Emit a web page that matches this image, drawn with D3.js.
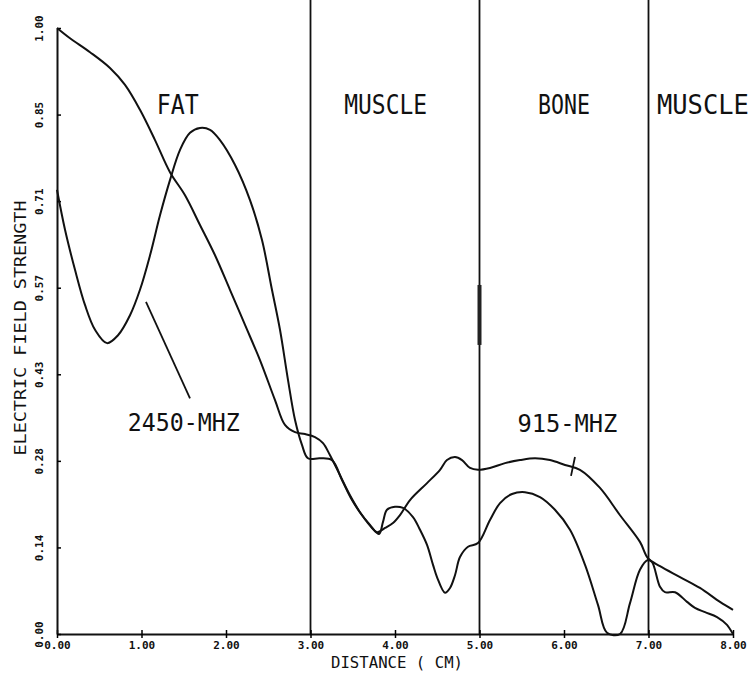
<!DOCTYPE html>
<html>
<head>
<meta charset="utf-8">
<script src="https://cdn.jsdelivr.net/npm/d3@7"></script>
<style>
  body { margin: 0; background: #fff; }
  text { font-family: "DejaVu Sans Mono", "Liberation Mono", monospace; fill: #111; }
</style>
</head>
<body>
<script>
// distance (cm) / field strength
const dist915 = [0, 0.154, 0.391, 0.627, 0.805, 0.982, 1.160, 1.337, 1.515, 1.692, 1.870, 2.047, 2.225, 2.402, 2.580, 2.698, 2.817, 2.935, 3.053, 3.148, 3.231, 3.349, 3.467, 3.586, 3.704, 3.787, 3.882, 3.976, 4.059, 4.178, 4.379, 4.533, 4.615, 4.710, 4.793, 4.888, 4.982, 5.124, 5.302, 5.479, 5.657, 5.834, 6.012, 6.189, 6.426, 6.663, 6.899, 6.994, 7.136, 7.373, 7.609, 7.846, 8.0]
const field915 = [1.0, 0.983, 0.960, 0.934, 0.906, 0.865, 0.815, 0.762, 0.724, 0.675, 0.625, 0.568, 0.510, 0.452, 0.386, 0.345, 0.333, 0.330, 0.325, 0.315, 0.295, 0.262, 0.229, 0.201, 0.180, 0.168, 0.175, 0.183, 0.196, 0.221, 0.249, 0.271, 0.287, 0.292, 0.287, 0.274, 0.271, 0.274, 0.282, 0.287, 0.290, 0.287, 0.279, 0.271, 0.241, 0.196, 0.152, 0.125, 0.112, 0.094, 0.076, 0.053, 0.040]

const dist2450 = [0, 0.095, 0.213, 0.331, 0.450, 0.592, 0.722, 0.864, 0.982, 1.101, 1.219, 1.337, 1.456, 1.574, 1.692, 1.811, 1.929, 2.107, 2.284, 2.426, 2.544, 2.639, 2.734, 2.817, 2.899, 2.970, 3.112, 3.254, 3.373, 3.491, 3.609, 3.728, 3.811, 3.858, 3.905, 4.000, 4.095, 4.213, 4.296, 4.379, 4.450, 4.497, 4.592, 4.651, 4.710, 4.769, 4.864, 4.982, 5.124, 5.243, 5.385, 5.538, 5.716, 5.893, 6.071, 6.249, 6.402, 6.509, 6.663, 6.781, 6.899, 6.994, 7.041, 7.136, 7.195, 7.314, 7.456, 7.550, 7.669, 7.811, 7.929, 8.0]
const field2450 = [0.733, 0.667, 0.601, 0.543, 0.502, 0.480, 0.493, 0.526, 0.568, 0.625, 0.691, 0.749, 0.799, 0.827, 0.835, 0.832, 0.815, 0.774, 0.716, 0.650, 0.568, 0.502, 0.419, 0.353, 0.312, 0.290, 0.290, 0.287, 0.254, 0.221, 0.196, 0.175, 0.165, 0.185, 0.205, 0.210, 0.208, 0.193, 0.172, 0.147, 0.114, 0.094, 0.068, 0.076, 0.097, 0.127, 0.144, 0.150, 0.188, 0.216, 0.231, 0.234, 0.226, 0.205, 0.172, 0.114, 0.048, 0.002, 0, 0.051, 0.106, 0.122, 0.119, 0.078, 0.069, 0.069, 0.053, 0.043, 0.036, 0.028, 0.015, 0]

const xTicks = [0, 1, 2, 3, 4, 5, 6, 7, 8]
const xTickLabels = ["0.00", "1.00", "2.00", "3.00", "4.00", "5.00", "6.00", "7.00", "8.00"]
const yTicks = [0, 1/7, 2/7, 3/7, 4/7, 5/7, 6/7, 1]
const yTickLabels = ["0.00", "0.14", "0.28", "0.43", "0.57", "0.71", "0.85", "1.00"]

const boundaries = [3, 5, 7]
const regions = [
  {name: "FAT", x: 1.43, anchor: "middle", len: 42},
  {name: "MUSCLE", x: 3.89, anchor: "middle", len: 83},
  {name: "BONE", x: 6.0, anchor: "middle", len: 52},
  {name: "MUSCLE", x: 7.1, anchor: "start", len: 92}
]

const width = 754, height = 683
const margin = {top: 28, right: 21, bottom: 49, left: 57}

const svg = d3.select("body").append("svg")
  .attr("width", width)
  .attr("height", height)

const xScale = d3.scaleLinear()
  .domain([0, 8])
  .range([margin.left, width - margin.right])

const yScale = d3.scaleLinear()
  .domain([0, 1])
  .range([height - margin.bottom, margin.top])

// tissue boundaries
svg.selectAll(".boundary")
  .data(boundaries)
  .enter()
  .append("line")
  .attr("x1", d => xScale(d))
  .attr("x2", d => xScale(d))
  .attr("y1", 0)
  .attr("y2", yScale(0))
  .attr("stroke", "#111")
  .attr("stroke-width", 1.8)

// dark smudge on the 5 cm line
svg.append("line")
  .attr("x1", xScale(5)).attr("x2", xScale(5))
  .attr("y1", yScale(0.576)).attr("y2", yScale(0.477))
  .attr("stroke", "#222")
  .attr("stroke-width", 4)

// axes
const xAxis = svg.append("g")
  .attr("transform", "translate(0," + yScale(0) + ")")
  .call(d3.axisBottom(xScale).tickValues(xTicks).tickFormat((d, i) => xTickLabels[i]).tickSize(4).tickSizeOuter(0))
xAxis.select(".domain").attr("stroke", "#111").attr("stroke-width", 2)
xAxis.selectAll(".tick line").attr("y1", -4).attr("stroke-width", 1.5)
xAxis.selectAll(".tick text")
  .attr("y", 7)
  .attr("font-size", 11)
  .attr("font-weight", "bold")
  .attr("font-family", "DejaVu Sans Mono")

const yAxis = svg.append("g")
  .attr("transform", "translate(" + xScale(0) + ",0)")
  .call(d3.axisLeft(yScale).tickValues(yTicks).tickFormat((d, i) => yTickLabels[i]).tickSize(4).tickSizeOuter(0))
yAxis.select(".domain").attr("stroke", "#111").attr("stroke-width", 2)
yAxis.selectAll(".tick line").attr("x2", 4).attr("stroke-width", 1.5)
yAxis.selectAll(".tick text")
  .attr("x", 0).attr("dy", 0)
  .attr("text-anchor", "middle")
  .attr("transform", "translate(-14,0) rotate(-90)")
  .attr("font-size", 11)
  .attr("font-weight", "bold")
  .attr("font-family", "DejaVu Sans Mono")

// curves
const line = d3.line()
  .x(d => xScale(d[0]))
  .y(d => yScale(d[1]))
  .curve(d3.curveCatmullRom.alpha(0.5))

svg.append("path")
  .datum(dist915.map((d, i) => [d, field915[i]]))
  .attr("d", line)
  .attr("fill", "none")
  .attr("stroke", "#111")
  .attr("stroke-width", 2)

svg.append("path")
  .datum(dist2450.map((d, i) => [d, field2450[i]]))
  .attr("d", line)
  .attr("fill", "none")
  .attr("stroke", "#111")
  .attr("stroke-width", 2)

// region names
svg.selectAll(".region")
  .data(regions)
  .enter()
  .append("text")
  .attr("x", d => xScale(d.x))
  .attr("y", yScale(0.858))
  .attr("text-anchor", d => d.anchor)
  .attr("font-size", 27)
  .attr("textLength", d => d.len)
  .attr("lengthAdjust", "spacingAndGlyphs")
  .text(d => d.name)

// frequency labels with pointers
svg.append("text")
  .attr("x", xScale(1.5)).attr("y", yScale(0.335))
  .attr("text-anchor", "middle")
  .attr("font-size", 24)
  .attr("textLength", 112).attr("lengthAdjust", "spacingAndGlyphs")
  .text("2450-MHZ")
svg.append("line")
  .attr("x1", xScale(1.053)).attr("y1", yScale(0.548))
  .attr("x2", xScale(1.574)).attr("y2", yScale(0.389))
  .attr("stroke", "#111").attr("stroke-width", 1.8)

svg.append("text")
  .attr("x", xScale(6.04)).attr("y", yScale(0.333))
  .attr("text-anchor", "middle")
  .attr("font-size", 24)
  .attr("textLength", 100).attr("lengthAdjust", "spacingAndGlyphs")
  .text("915-MHZ")
svg.append("line")
  .attr("x1", xScale(6.13)).attr("y1", yScale(0.292))
  .attr("x2", xScale(6.083)).attr("y2", yScale(0.261))
  .attr("stroke", "#111").attr("stroke-width", 1.8)

// axis titles
svg.append("text")
  .attr("x", 397).attr("y", 668)
  .attr("text-anchor", "middle")
  .attr("font-size", 15)
  .attr("textLength", 132).attr("lengthAdjust", "spacingAndGlyphs")
  .text("DISTANCE ( CM)")

svg.append("text")
  .attr("transform", "translate(26,328) rotate(-90)")
  .attr("text-anchor", "middle")
  .attr("font-size", 15)
  .attr("textLength", 255).attr("lengthAdjust", "spacingAndGlyphs")
  .text("ELECTRIC FIELD STRENGTH")
</script>
</body>
</html>
